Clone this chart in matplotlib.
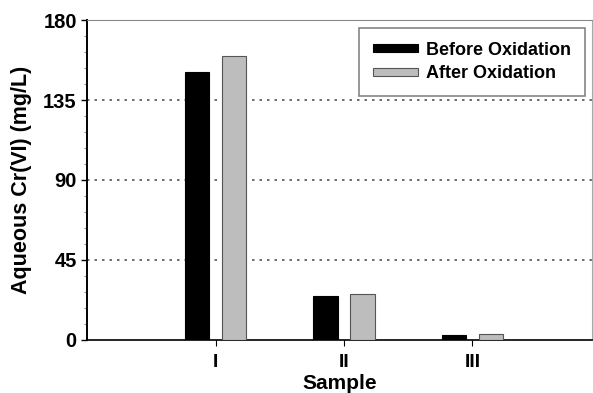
import numpy as np
import matplotlib
matplotlib.use("Agg")
import matplotlib.pyplot as plt
from matplotlib.ticker import MultipleLocator

plt.rcParams['font.family'] = ['Liberation Sans', 'DejaVu Sans']
plt.rcParams['font.weight'] = 'bold'

# Data
samples = ['I', 'II', 'III']
before = [151, 25, 2.8]
after = [160, 26, 3.4]

x = np.arange(1, len(samples) + 1)
w = 0.19

fig = plt.figure(figsize=(5.93, 3.93), dpi=100)
ax = fig.add_axes([0.147, 0.135, 0.851, 0.814])

ax.bar(x - 0.145, before, width=w, color='black', edgecolor='black',
       linewidth=0.8, label='Before Oxidation', zorder=3)
ax.bar(x + 0.145, after, width=w, color='#bdbdbd', edgecolor='#555555',
       linewidth=0.8, label='After Oxidation', zorder=3)

ax.set_xlim(0, 3.93)
ax.set_ylim(0, 180)
ax.set_xticks(x)
ax.set_xticklabels(samples, fontsize=14, fontweight='bold')
ax.set_yticks([0, 45, 90, 135, 180])
ax.yaxis.set_minor_locator(MultipleLocator(9))
ax.tick_params(axis='y', labelsize=14.5, direction='out', length=4, width=1)
ax.tick_params(axis='y', which='minor', length=2, width=0.6, color='#777777')
ax.tick_params(axis='x', direction='out', length=4, width=0.8, pad=6)

for y in [45, 90, 135]:
    ax.axhline(y, color='#555555', linestyle=(0, (1.5, 3)), linewidth=1.2, zorder=1)

ax.spines['left'].set_linewidth(1.4)
ax.spines['bottom'].set_linewidth(1.2)
ax.spines['top'].set_color('#888888')
ax.spines['right'].set_color('#aaaaaa')

ax.set_xlabel('Sample', fontsize=15, fontweight='bold', labelpad=2)
ax.set_ylabel('Aqueous Cr(VI) (mg/L)', fontsize=15.5, fontweight='bold', labelpad=8)

leg = ax.legend(loc='upper right', bbox_to_anchor=(0.986, 0.975), fontsize=13,
                frameon=True, fancybox=False, edgecolor='#666666',
                handlelength=2.5, handleheight=0.35, labelspacing=0.37,
                handletextpad=0.45, borderpad=0.75, borderaxespad=0)
leg.get_frame().set_linewidth(1.2)
for t in leg.get_texts():
    t.set_fontweight('bold')

fig.savefig('out.png', dpi=100)
